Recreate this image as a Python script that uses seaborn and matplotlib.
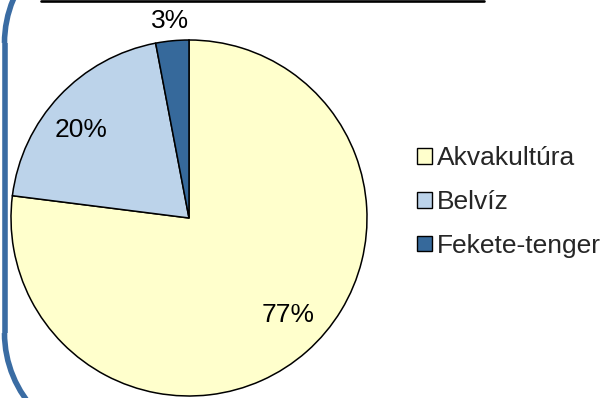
import matplotlib
matplotlib.use("Agg")
import matplotlib.pyplot as plt
import numpy as np
import seaborn as sns
from matplotlib.patches import Arc
from matplotlib.lines import Line2D

# Catch shares by source
categories = ["Akvakultúra", "Belvíz", "Fekete-tenger"]
shares = [77, 20, 3]
slice_colors = ["#FFFFCC", "#BCD3EA", "#36699B"]

sns.set_theme(style="white")
plt.rcParams["font.family"] = ["Liberation Sans", "DejaVu Sans"]

W, H, DPI = 604, 398, 100
FONT = 19
fig = plt.figure(figsize=(W / DPI, H / DPI), dpi=DPI)
fig.patch.set_facecolor("white")

# Rounded chart-area frame (left side only falls on the canvas);
# geometry in inches measured from the lower-left corner
frame_color, frame_lw = "#3A6CA3", 4.0
fx, corner_r = 0.045, 1.13
top_cy, bot_cy = (H - 43) / DPI, (H - 333) / DPI
for cy_, t1, t2 in [(top_cy, 90, 180), (bot_cy, 180, 270)]:
    fig.patches.append(Arc((fx + corner_r, cy_), 2 * corner_r, 2 * corner_r,
                           theta1=t1, theta2=t2, transform=fig.dpi_scale_trans,
                           edgecolor=frame_color, linewidth=frame_lw))
fig.lines.append(Line2D([fx, fx], [bot_cy, top_cy],
                        transform=fig.dpi_scale_trans, color=frame_color,
                        linewidth=frame_lw, solid_capstyle="butt"))

# Rule along the top edge
fig.lines.append(Line2D([41 / DPI, 484 / DPI], [(H - 1) / DPI, (H - 1) / DPI],
                        transform=fig.dpi_scale_trans, color="black",
                        linewidth=1.9))

# Pie axes: centre (189, 218) px, radius 178 px
cx, cy, r = 189, 218, 178
ax = fig.add_axes([(cx - r) / W, (H - cy - r) / H, 2 * r / W, 2 * r / H])
ax.set_facecolor("none")

wedges, texts, autotexts = ax.pie(
    shares, colors=slice_colors, startangle=90, counterclock=False,
    autopct="%.0f%%", pctdistance=0.78,
    wedgeprops=dict(edgecolor="black", linewidth=1.1),
    textprops=dict(fontsize=FONT, color="black"))

# Label placement: inside labels sit slightly counter-clockwise of the
# wedge middle, the small slice gets its label outside the rim
label_turn = 4.0
for w, t in zip(wedges, autotexts):
    mid = (w.theta1 + w.theta2) / 2
    if w.theta2 - w.theta1 < 20:
        dist, ang = 1.11, np.deg2rad(mid)
    else:
        dist, ang = 0.78, np.deg2rad(mid + label_turn)
    t.set_position((dist * np.cos(ang), dist * np.sin(ang)))

ax.set_xlim(-1, 1)
ax.set_ylim(-1, 1)
ax.set_aspect("equal")
ax.axis("off")

leg = fig.legend(wedges, categories, loc="center left",
                 bbox_to_anchor=(417 / W, 1 - 202 / H),
                 frameon=False, fontsize=FONT, handlelength=0.55,
                 handleheight=0.55, handletextpad=0.2, labelspacing=0.75,
                 borderpad=0, borderaxespad=0)
for h in leg.legend_handles:
    h.set_linewidth(1.0)
    h.set_edgecolor("black")

fig.savefig("out.png", dpi=DPI)
